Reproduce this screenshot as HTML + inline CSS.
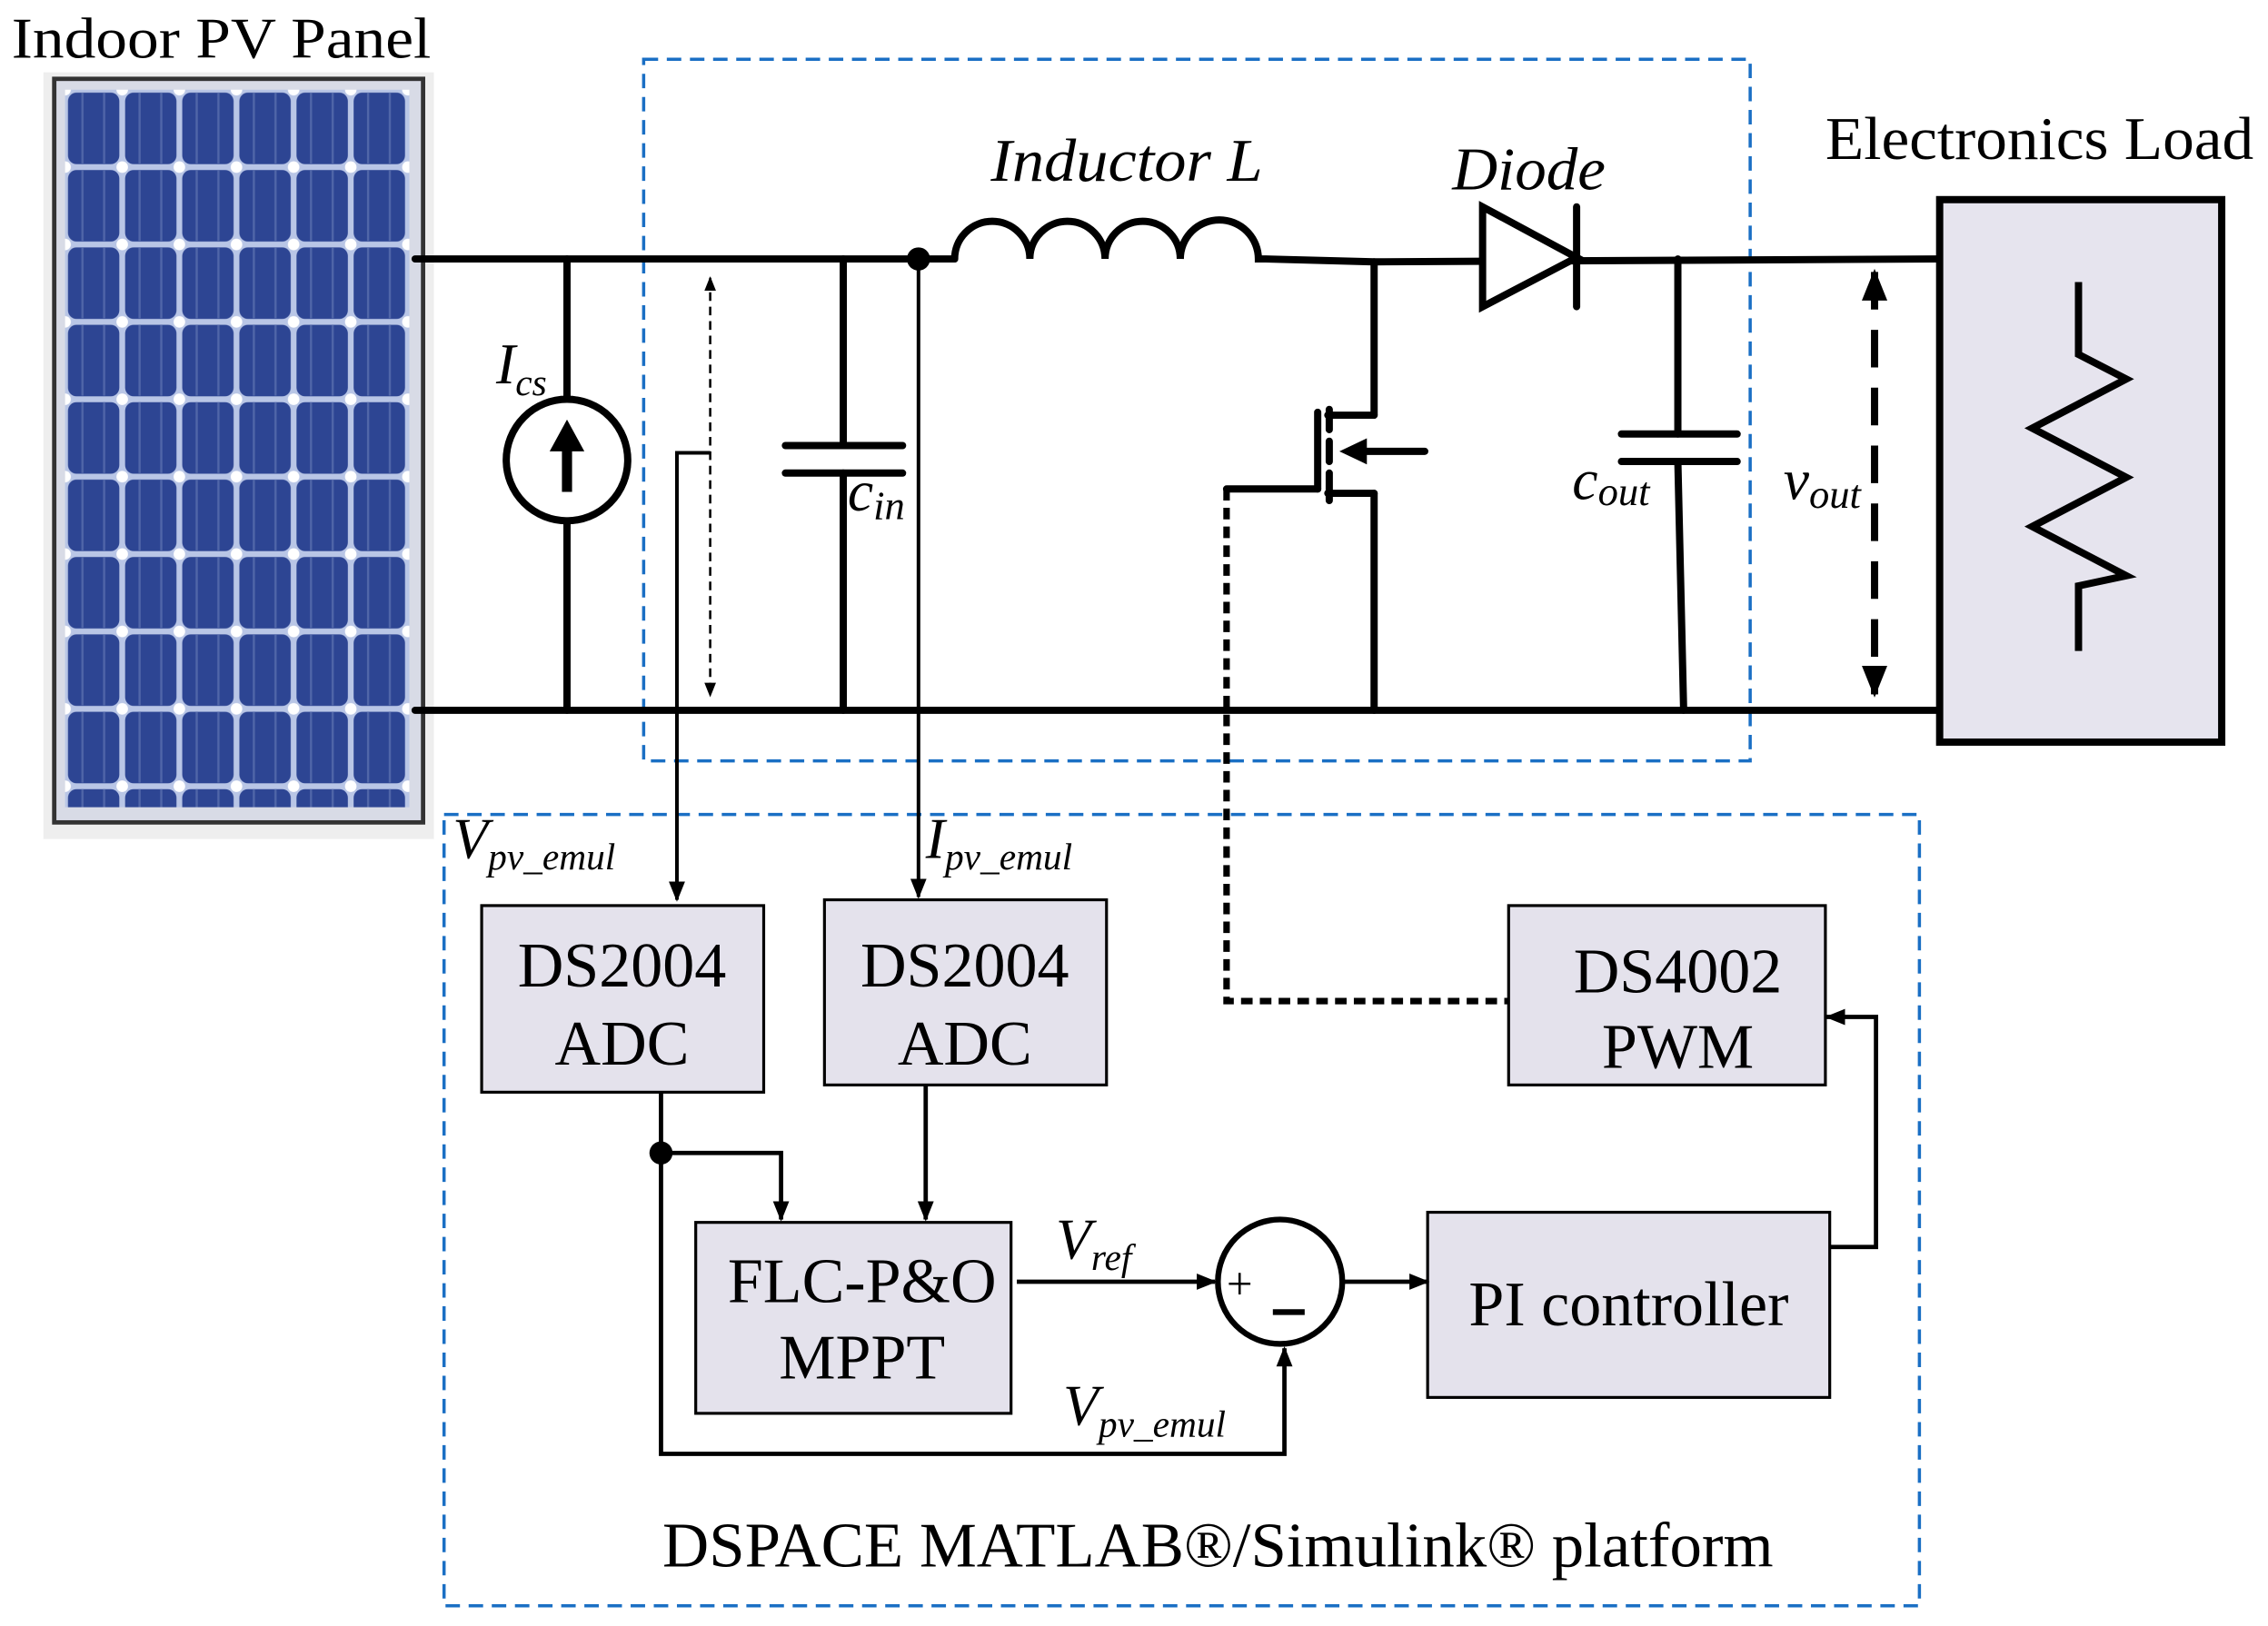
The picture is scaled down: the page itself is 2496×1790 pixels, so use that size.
<!DOCTYPE html>
<html><head><meta charset="utf-8"><style>html,body{margin:0;padding:0;background:#fff}svg{display:block}</style></head>
<body>
<svg width="2496" height="1790" viewBox="0 0 1568 1124" preserveAspectRatio="none" xmlns="http://www.w3.org/2000/svg" font-family="Liberation Serif, serif">
<defs>
<marker id="at" viewBox="0 0 10 10" refX="9" refY="5" markerWidth="10" markerHeight="10" orient="auto-start-reverse" markerUnits="userSpaceOnUse"><path d="M0,1L10,5L0,9z" fill="#000"/></marker>
<marker id="ab" viewBox="0 0 10 10" refX="9" refY="5" markerWidth="22" markerHeight="22" orient="auto-start-reverse" markerUnits="userSpaceOnUse"><path d="M0,1L10,5L0,9z" fill="#000"/></marker>
<marker id="am" viewBox="0 0 10 10" refX="9" refY="5" markerWidth="14" markerHeight="14" orient="auto-start-reverse" markerUnits="userSpaceOnUse"><path d="M0,1L10,5L0,9z" fill="#000"/></marker>
<pattern id="cells" x="45" y="62" width="39.5" height="53.5" patternUnits="userSpaceOnUse">
<rect width="39.5" height="53.5" fill="#b9c6e6"/>
<rect x="2" y="2" width="35.5" height="49.5" rx="6" fill="#2d4593"/>
<line x1="12" y1="2" x2="12" y2="51" stroke="#5066a8" stroke-width="1.5"/>
<line x1="27" y1="2" x2="27" y2="51" stroke="#5066a8" stroke-width="1.5"/>
<circle cx="0" cy="0" r="4" fill="#fff"/><circle cx="39.5" cy="0" r="4" fill="#fff"/><circle cx="0" cy="53.5" r="4" fill="#fff"/><circle cx="39.5" cy="53.5" r="4" fill="#fff"/>
</pattern>
</defs>

<text x="8" y="40" font-size="40" textLength="290" lengthAdjust="spacingAndGlyphs">Indoor PV Panel</text>
<rect x="30" y="50" width="270" height="530" fill="#eeeeee"/>
<rect x="36" y="53" width="258" height="517" fill="#333"/>
<rect x="39" y="56" width="252" height="511" fill="#d8dbe6"/>
<rect x="45" y="62" width="238" height="496" fill="url(#cells)"/>

<rect x="445" y="41" width="765" height="485" fill="none" stroke="#1a6fc4" stroke-width="2.2" stroke-dasharray="10,6"/>
<rect x="307" y="563" width="1020" height="547" fill="none" stroke="#1a6fc4" stroke-width="2.2" stroke-dasharray="10,6"/>

<g stroke="#000" stroke-width="5" fill="none" stroke-linecap="round">
<line x1="287" y1="179" x2="660" y2="179"/>
<line x1="287" y1="491" x2="1340" y2="491"/>
<line x1="392" y1="179" x2="392" y2="276"/>
<line x1="392" y1="360" x2="392" y2="491"/>
<circle cx="392" cy="318" r="42"/>
<line x1="583" y1="179" x2="583" y2="308"/>
<line x1="543" y1="308" x2="624" y2="308"/>
<line x1="543" y1="327" x2="624" y2="327"/>
<line x1="583" y1="327" x2="583" y2="491"/>
<path d="M660,179 A26,26 0 0 1 712,179 A26,26 0 0 1 764,179 A26,26 0 0 1 816,179 A26,26 0 0 1 870,179 L875,179 L950,181 L1340,179"/>
<line x1="950" y1="181" x2="950" y2="287"/>
<line x1="950" y1="287" x2="918" y2="287"/>
<line x1="918" y1="341" x2="950" y2="341"/>
<line x1="950" y1="341" x2="950" y2="491"/>
<line x1="911" y1="285" x2="911" y2="338"/>
<line x1="848" y1="338" x2="911" y2="338"/>
<line x1="919" y1="283" x2="919" y2="297"/>
<line x1="919" y1="305" x2="919" y2="319"/>
<line x1="919" y1="327" x2="919" y2="346"/>
<line x1="940" y1="312" x2="985" y2="312"/>
<line x1="1160" y1="179" x2="1160" y2="300"/>
<line x1="1121" y1="300" x2="1201" y2="300"/>
<line x1="1121" y1="319" x2="1201" y2="319"/>
<line x1="1160" y1="319" x2="1164" y2="491"/>
<line x1="1090" y1="143" x2="1090" y2="212"/>
</g>
<path d="M392,290 L380,312 L404,312 Z" fill="#000"/>
<line x1="392" y1="305" x2="392" y2="340" stroke="#000" stroke-width="7"/>
<path d="M926,312 L945,303 L945,321 Z" fill="#000"/>
<path d="M1025,143 L1090,178 L1025,212 Z" fill="#fff" stroke="#000" stroke-width="5" stroke-linejoin="miter"/>
<circle cx="635" cy="179" r="8" fill="#000"/>
<rect x="1341" y="138" width="195" height="375" fill="#e6e4ee" stroke="#000" stroke-width="5"/>
<path d="M1437,195 L1437,245 L1470,262 L1405,296 L1470,330 L1405,364 L1470,398 L1437,405 L1437,450" fill="none" stroke="#000" stroke-width="5"/>

<line x1="491" y1="192" x2="491" y2="481" stroke="#000" stroke-width="1.6" stroke-dasharray="6,4" marker-start="url(#at)" marker-end="url(#at)"/>
<polyline points="491,313 468,313 468,622" fill="none" stroke="#000" stroke-width="2.5" marker-end="url(#am)"/>
<line x1="635" y1="179" x2="635" y2="620" stroke="#000" stroke-width="2.5" marker-end="url(#am)"/>
<line x1="1296" y1="188" x2="1296" y2="480" stroke="#000" stroke-width="5" stroke-dasharray="26,14" marker-start="url(#ab)" marker-end="url(#ab)"/>
<polyline points="848,338 848,692 1043,692" fill="none" stroke="#000" stroke-width="4.5" stroke-dasharray="8,5"/>

<g fill="#e4e2ec" stroke="#000" stroke-width="2">
<rect x="333" y="626" width="195" height="129"/>
<rect x="570" y="622" width="195" height="128"/>
<rect x="1043" y="626" width="219" height="124"/>
<rect x="481" y="845" width="218" height="132"/>
<rect x="987" y="838" width="278" height="128"/>
</g>
<g fill="none" stroke="#000" stroke-width="3">
<polyline points="457,755 457,1005 888,1005 888,932" marker-end="url(#am)"/>
<polyline points="457,797 540,797 540,843" marker-end="url(#am)"/>
<line x1="640" y1="750" x2="640" y2="843" marker-end="url(#am)"/>
<line x1="703" y1="886" x2="840" y2="886" marker-end="url(#am)"/>
<line x1="929" y1="886" x2="987" y2="886" marker-end="url(#am)"/>
<polyline points="1265,862 1297,862 1297,703 1263,703" marker-end="url(#am)"/>
<circle cx="885" cy="886" r="43" stroke-width="4"/>
</g>
<circle cx="457" cy="797" r="8" fill="#000"/>
<text x="848" y="898" font-size="32">+</text>
<line x1="880" y1="907" x2="902" y2="907" stroke="#000" stroke-width="4"/>

<g font-size="44" text-anchor="middle">
<text x="430" y="682">DS2004</text><text x="430" y="736">ADC</text>
<text x="667" y="682">DS2004</text><text x="667" y="736">ADC</text>
<text x="1160" y="686">DS4002</text><text x="1160" y="738">PWM</text>
<text x="596" y="900">FLC-P&amp;O</text><text x="596" y="953">MPPT</text>
<text x="1126" y="916">PI controller</text>
</g>
<text x="1262" y="110" font-size="42" textLength="296" lengthAdjust="spacingAndGlyphs">Electronics Load</text>
<text x="458" y="1083" font-size="44" textLength="768" lengthAdjust="spacingAndGlyphs">DSPACE MATLAB®/Simulink® platform</text>

<g font-style="italic">
<text x="685" y="125" font-size="42" textLength="188" lengthAdjust="spacingAndGlyphs">Inductor L</text>
<text x="1004" y="131" font-size="42" textLength="106" lengthAdjust="spacingAndGlyphs">Diode</text>
<text x="343" y="265" font-size="40">I<tspan font-size="26" dy="8">cs</tspan></text>
<text x="586" y="353" font-size="40">c<tspan font-size="28" dy="6">in</tspan></text>
<text x="1087" y="345" font-size="40">c<tspan font-size="28" dy="4">out</tspan></text>
<text x="1233" y="345" font-size="40">v<tspan font-size="28" dy="6">out</tspan></text>
<text x="313" y="593" font-size="40">V<tspan font-size="26" dy="8">pv_emul</tspan></text>
<text x="640" y="593" font-size="40">I<tspan font-size="26" dy="8">pv_emul</tspan></text>
<text x="730" y="870" font-size="40">V<tspan font-size="26" dy="8">ref</tspan></text>
<text x="735" y="985" font-size="40">V<tspan font-size="26" dy="8">pv_emul</tspan></text>
</g>
</svg>
</body></html>
